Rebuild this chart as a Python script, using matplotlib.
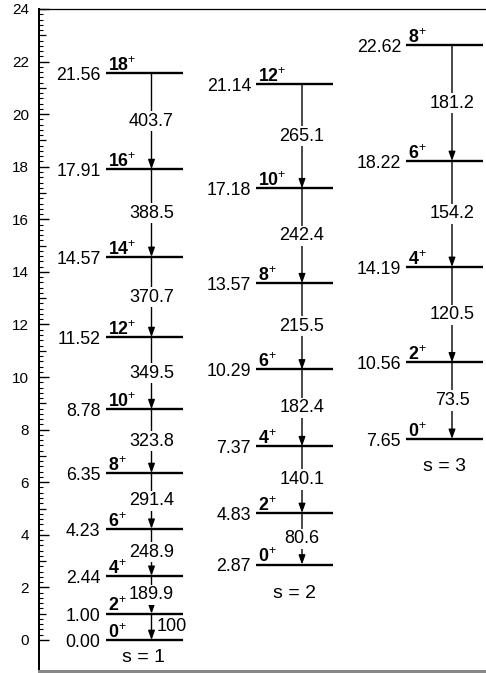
import matplotlib
matplotlib.use('Agg')
import matplotlib.pyplot as plt
from matplotlib.patches import FancyArrowPatch
from matplotlib.ticker import FixedLocator
import numpy as np

plt.rcParams['font.family'] = ['Liberation Sans', 'DejaVu Sans']
plt.rcParams['mathtext.fontset'] = 'custom'
plt.rcParams['mathtext.rm'] = 'Liberation Sans'
plt.rcParams['mathtext.bf'] = 'Liberation Sans:bold'
plt.rcParams['mathtext.it'] = 'Liberation Sans:italic'

# ---------------- data ----------------
band_names = ['s = 1', 's = 2', 's = 3']
s1_energies = [0.00, 1.00, 2.44, 4.23, 6.35, 8.78, 11.52, 14.57, 17.91, 21.56]
s1_spins = ['0', '2', '4', '6', '8', '10', '12', '14', '16', '18']
s1_gammas = [100, 189.9, 248.9, 291.4, 323.8, 349.5, 370.7, 388.5, 403.7]

s2_energies = [2.87, 4.83, 7.37, 10.29, 13.57, 17.18, 21.14]
s2_spins = ['0', '2', '4', '6', '8', '10', '12']
s2_gammas = [80.6, 140.1, 182.4, 215.5, 242.4, 265.1]

s3_energies = [7.65, 10.56, 14.19, 18.22, 22.62]
s3_spins = ['0', '2', '4', '6', '8']
s3_gammas = [73.5, 120.5, 154.2, 181.2]

y_ticks = [0, 2, 4, 6, 8, 10, 12, 14, 16, 18, 20, 22, 24]

# ---------------- layout ----------------
W, H, DPI = 486, 673, 100
fig = plt.figure(figsize=(W / DPI, H / DPI), dpi=DPI)
ax_left_px, ax_top_px, ax_bot_px = 38.5, 9, 671
ax_right_frac = 1.03
ax = fig.add_axes([ax_left_px / W, (H - ax_bot_px) / H,
                   ax_right_frac - ax_left_px / W, (ax_bot_px - ax_top_px) / H])
ax_w_px = ax_right_frac * W - ax_left_px
ax.set_xlim(ax_left_px, ax_left_px + ax_w_px)
ax.set_ylim(-1.18, 24)

centers = [144, 294.5, 444.5]
half_w = 38.5
arrow_dx = 7.5
label_offsets = [0.65, 1.1, 1.07]

bands = [(s1_energies, s1_spins, s1_gammas),
         (s2_energies, s2_spins, s2_gammas),
         (s3_energies, s3_spins, s3_gammas)]

for bi, (E, J, G) in enumerate(bands):
    cx = centers[bi]
    x0, x1 = cx - half_w, cx + half_w
    ax.hlines(E, x0, x1, colors='k', lw=1.7, zorder=3)
    xa = cx + arrow_dx
    for e, j in zip(E, J):
        ax.annotate(f'{e:.2f}', (x0 - 5, e), xytext=(0, -5.0),
                    textcoords='offset points', ha='right', va='baseline',
                    fontsize=12.8, zorder=5)
        ax.annotate(r'$\mathbf{%s}^{\mathrm{+}}$' % j, (x0 + 2.5, e),
                    xytext=(0, 1.6), textcoords='offset points',
                    ha='left', va='baseline', fontsize=12.8, zorder=5)
    for i, g in enumerate(G):
        lo, hi = E[i], E[i + 1]
        arr = FancyArrowPatch((xa, hi), (xa, lo),
                              arrowstyle='-|>,head_length=0.55,head_width=0.2',
                              mutation_scale=10, lw=1.0, color='k',
                              shrinkA=0, shrinkB=0, zorder=2)
        ax.add_patch(arr)
        mid = 0.5 * (lo + hi)
        if bi == 0 and i == 0:
            ax.text(xa + 5, mid, f'{g:g}', ha='left', va='center',
                    fontsize=13, zorder=6)
        else:
            ax.text(xa, mid, f'{g:g}', ha='center', va='center',
                    fontsize=13, zorder=6,
                    bbox=dict(facecolor='white', edgecolor='none', pad=1.2))
    ax.text(cx, E[0] - label_offsets[bi], band_names[bi], ha='center',
            va='center', fontsize=14, zorder=6)

# ---------------- axes styling ----------------
ax.set_xticks([])
ax.set_yticks(y_ticks)
ax.set_yticklabels([str(t) for t in y_ticks], fontsize=11)
minor = [round(v, 1) for v in np.arange(0, 24.01, 0.2)
         if abs(v - round(v)) > 1e-6]
ax.yaxis.set_minor_locator(FixedLocator(minor))
ax.tick_params(axis='y', which='major', direction='in', length=7, width=1.0,
               pad=7)
ax.tick_params(axis='y', which='minor', direction='in', length=3, width=0.8)

sec = ax.secondary_yaxis('left')
sec.set_yticks([1, 3, 5, 7, 9, 11, 13, 15, 17, 19, 21, 23])
sec.set_yticklabels([])
sec.tick_params(direction='in', length=5, width=0.9)
sec.spines['left'].set_linewidth(1.3)

ax.spines['left'].set_linewidth(1.3)
ax.spines['top'].set_linewidth(0.9)
ax.spines['right'].set_visible(False)
ax.spines['bottom'].set_color('#888888')
ax.spines['bottom'].set_linewidth(2.2)

fig.savefig('out.png', dpi=DPI)
